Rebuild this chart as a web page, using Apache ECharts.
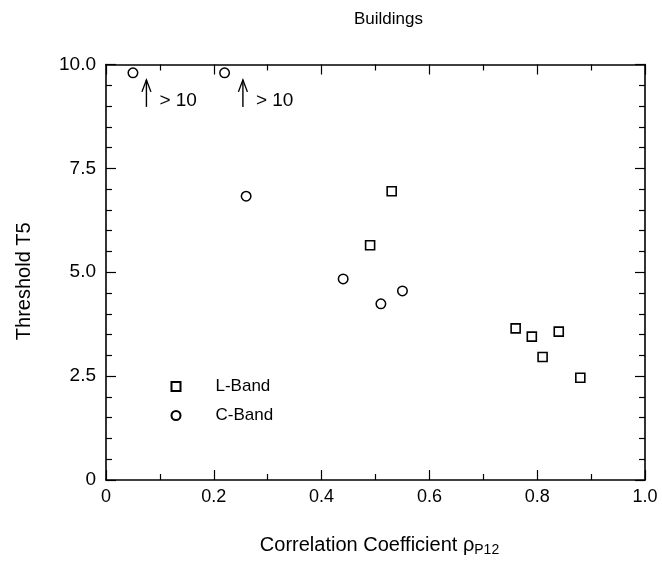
<!DOCTYPE html>
<html>
<head>
<meta charset="utf-8">
<script src="https://cdn.jsdelivr.net/npm/echarts@6/dist/echarts.min.js"></script>
<style>
html,body{margin:0;padding:0;background:#fff;}
#chart{width:662px;height:562px;}
</style>
</head>
<body>
<div id="chart"></div>
<script>
// Data
var lBandX = [0.53, 0.49, 0.76, 0.79, 0.84, 0.81, 0.88];
var lBandY = [6.95, 5.65, 3.65, 3.45, 3.57, 2.96, 2.46];
var cBandX = [0.05, 0.22, 0.26, 0.44, 0.55, 0.51];
var cBandY = [9.8, 9.8, 6.83, 4.84, 4.55, 4.24];
// Off-scale indicators (arrows pointing up, "> 10")
var arrowX = [0.075, 0.254];
var arrowTop = [9.63, 9.63];
var arrowBottom = [8.98, 8.98];
var arrowText = ['> 10', '> 10'];
var xTicks = [0, 0.2, 0.4, 0.6, 0.8, 1.0];
var yTicks = [0, 2.5, 5.0, 7.5, 10.0];

var FONT = 'Liberation Sans, Arial, Helvetica, sans-serif';
var chart = echarts.init(document.getElementById('chart'));

function zip(a, b) { return a.map(function (v, i) { return [v, b[i]]; }); }
function fmt(v) { return v === 0 ? '0' : v.toFixed(1); }

var axisCommon = {
  axisLine: { show: true, onZero: false, lineStyle: { color: '#000', width: 1.6 } },
  axisTick: { show: true, inside: true, length: 10, lineStyle: { color: '#000', width: 1.2 } },
  minorTick: { show: true, length: 6, lineStyle: { color: '#000', width: 1.2 } },
  splitLine: { show: false },
  minorSplitLine: { show: false }
};

var option = {
  backgroundColor: '#fff',
  animation: false,
  title: {
    text: 'Buildings',
    left: 349,
    top: 6,
    textStyle: { fontFamily: FONT, fontSize: 17, fontWeight: 'normal', color: '#000' }
  },
  grid: { left: 106, right: 17, top: 64.5, bottom: 78 },
  legend: {
    data: ['L-Band', 'C-Band'],
    orient: 'vertical',
    left: 165.5,
    top: 373,
    itemWidth: 9,
    itemHeight: 9,
    itemGap: 12,
    textStyle: { fontFamily: FONT, fontSize: 17, color: '#000', lineHeight: 16, padding: [0, 0, 0, 30] }
  },
  xAxis: [
    Object.assign({}, axisCommon, {
      type: 'value', min: xTicks[0], max: xTicks[xTicks.length - 1], interval: 0.2,
      position: 'bottom',
      minorTick: Object.assign({}, axisCommon.minorTick, { splitNumber: 2 }),
      axisLabel: { show: true, margin: 8, color: '#000', fontFamily: FONT, fontSize: 18, formatter: fmt },
      name: 'Correlation Coefficient ρ{sub|P12}',
      nameLocation: 'middle',
      nameGap: 54,
      nameTextStyle: {
        fontFamily: FONT, fontSize: 20, color: '#000', padding: [0, 0, 0, 8],
        rich: { sub: { fontFamily: FONT, fontSize: 14, color: '#000', verticalAlign: 'bottom', padding: [9, 0, 0, 0] } }
      }
    }),
    Object.assign({}, axisCommon, {
      type: 'value', min: 0, max: 1, interval: 0.2,
      position: 'top',
      minorTick: Object.assign({}, axisCommon.minorTick, { splitNumber: 2 }),
      axisLabel: { show: false }
    })
  ],
  yAxis: [
    Object.assign({}, axisCommon, {
      type: 'value', min: yTicks[0], max: yTicks[yTicks.length - 1], interval: 2.5,
      position: 'left',
      minorTick: Object.assign({}, axisCommon.minorTick, { splitNumber: 5 }),
      axisLabel: { show: true, margin: 10, color: '#000', fontFamily: FONT, fontSize: 19, formatter: fmt },
      name: 'Threshold T5',
      nameLocation: 'middle',
      nameGap: 72,
      nameRotate: 90,
      nameTextStyle: { fontFamily: FONT, fontSize: 20, color: '#000', padding: [0, 0, 0, -18] }
    }),
    Object.assign({}, axisCommon, {
      type: 'value', min: 0, max: 10, interval: 2.5,
      position: 'right',
      minorTick: Object.assign({}, axisCommon.minorTick, { splitNumber: 5 }),
      axisLabel: { show: false }
    })
  ],
  series: [
    {
      name: 'L-Band',
      type: 'scatter',
      symbol: 'rect',
      symbolSize: 9,
      data: zip(lBandX, lBandY),
      itemStyle: { color: '#fff', borderColor: '#000', borderWidth: 1.6, opacity: 1 }
    },
    {
      name: 'C-Band',
      type: 'scatter',
      symbol: 'circle',
      symbolSize: 9.5,
      data: zip(cBandX, cBandY),
      itemStyle: { color: '#fff', borderColor: '#000', borderWidth: 1.5, opacity: 1 }
    },
    {
      name: 'arrows',
      type: 'custom',
      silent: true,
      data: arrowX.map(function (x, i) { return [x, arrowTop[i], arrowBottom[i], i]; }),
      renderItem: function (params, api) {
        var top = api.coord([api.value(0), api.value(1)]);
        var bot = api.coord([api.value(0), api.value(2)]);
        var idx = api.value(3);
        return {
          type: 'group',
          children: [
            { type: 'line', shape: { x1: top[0], y1: top[1], x2: bot[0], y2: bot[1] },
              style: { stroke: '#000', lineWidth: 1.4 } },
            { type: 'polyline', shape: { points: [[top[0] - 4.5, top[1] + 12], [top[0], top[1]], [top[0] + 4.5, top[1] + 12]] },
              style: { stroke: '#000', fill: null, lineWidth: 1.4 } },
            { type: 'text', x: top[0] + 13, y: top[1] + 21,
              style: { text: arrowText[idx], font: '19px ' + FONT, fill: '#000', verticalAlign: 'middle', align: 'left' } }
          ]
        };
      }
    }
  ]
};
chart.setOption(option);
</script>
</body>
</html>
